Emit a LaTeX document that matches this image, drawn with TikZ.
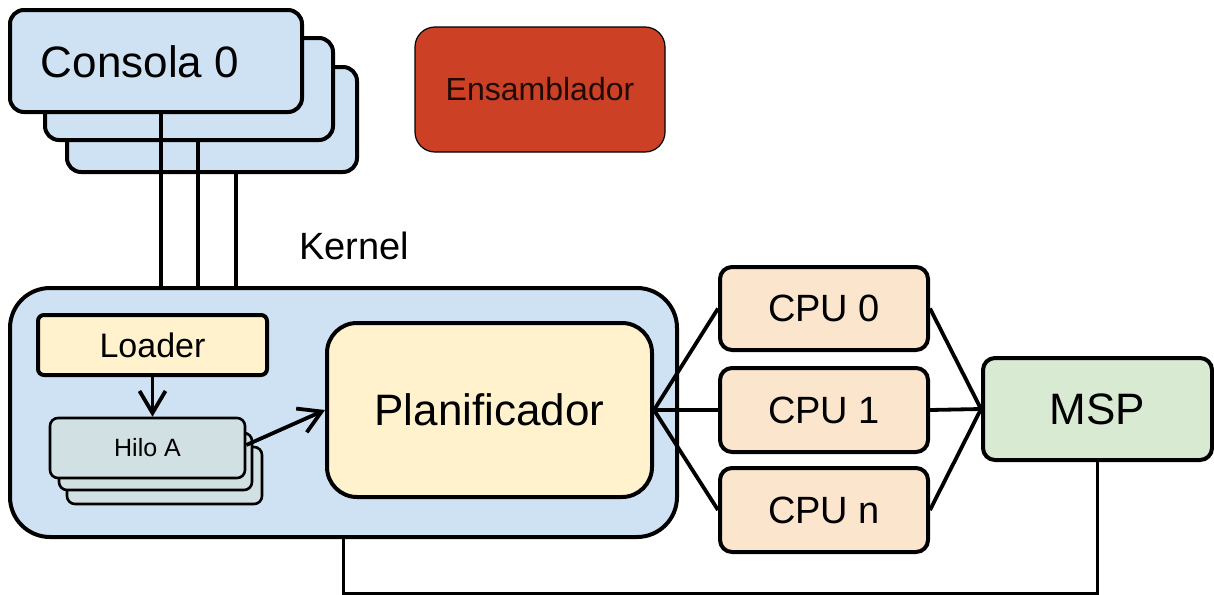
\documentclass[tikz,border=0pt]{standalone}
\usepackage{fontspec}
\setmainfont{Liberation Sans}
\usetikzlibrary{arrows.meta}
\definecolor{consblue}{HTML}{CFE2F3}
\definecolor{loadyel}{HTML}{FFF2CC}
\definecolor{cpuorange}{HTML}{FCE5CD}
\definecolor{mspgreen}{HTML}{D9EAD3}
\definecolor{hilogray}{HTML}{D0E0E3}
\definecolor{ensred}{HTML}{CC4125}
\begin{document}
\begin{tikzpicture}[x=0.5pt,y=-0.5pt,
  box/.style={draw,line width=2pt,rounded corners=6pt,inner sep=0pt},
  wire/.style={line width=1.9pt},
  arr/.style={-{Straight Barb[length=11pt,width=13pt]},line width=1.9pt}]
\useasboundingbox (0,0) rectangle (1214,594);
\node[box,fill=consblue,rounded corners=7pt,minimum width=145pt,minimum height=52.5pt] (con2) at (212,119.5) {};
\node[box,fill=consblue,rounded corners=7pt,minimum width=144pt,minimum height=51pt] (con1) at (189,89) {};
\node[box,fill=consblue,rounded corners=7pt,minimum width=146pt,minimum height=51pt] (con0) at (156,61) {};
\node[font=\fontsize{22}{26}\selectfont] (conlbl) at (140,62) {Consola 0};
\node[box,fill=ensred,line width=0.6pt,rounded corners=10pt,minimum width=125pt,minimum height=62.5pt,font=\fontsize{16}{19}\selectfont,text=black!85!ensred] (ens) at (540,89.5) {Ensamblador};
\node[font=\fontsize{19}{23}\selectfont] (klbl) at (354,246) {Kernel};
\node[box,fill=consblue,rounded corners=20pt,minimum width=333.5pt,minimum height=124.5pt] (kernel) at (343.5,412.5) {};
\draw[wire] ([xshift=2.5pt]con0.south) -- ([xshift=2.5pt]con0.south |- kernel.north);
\draw[wire] ([xshift=4.5pt]con1.south) -- ([xshift=4.5pt]con1.south |- kernel.north);
\draw[wire] ([xshift=12pt]con2.south) -- ([xshift=12pt]con2.south |- kernel.north);
\node[box,fill=loadyel,rounded corners=3pt,minimum width=114.5pt,minimum height=30pt,font=\fontsize{17}{20}\selectfont] (loader) at (152.5,345) {Loader};
\node[box,fill=hilogray,line width=1.3pt,rounded corners=4pt,minimum width=97.5pt,minimum height=28.5pt] (hilo2) at (164.5,475.5) {};
\node[box,fill=hilogray,line width=1.3pt,rounded corners=4pt,minimum width=96.5pt,minimum height=28.5pt] (hilo1) at (155.5,461.5) {};
\node[box,fill=hilogray,line width=1.3pt,rounded corners=4pt,minimum width=97.5pt,minimum height=30pt,font=\fontsize{12.5}{15}\selectfont] (hilo0) at (147.5,448) {Hilo A};
\node[box,fill=loadyel,rounded corners=15pt,minimum width=162.5pt,minimum height=87pt,font=\fontsize{22}{26}\selectfont] (planif) at (489.5,410) {Planificador};
\draw[arr] (loader.south) -- (hilo0.north -| loader.south);
\draw[arr] ([yshift=1.5pt]hilo0.east) -- (planif.west);
\node[box,fill=cpuorange,minimum width=104pt,minimum height=41.5pt,font=\fontsize{19}{23}\selectfont] (cpu0) at (824,308.5) {CPU 0};
\node[box,fill=cpuorange,minimum width=104pt,minimum height=42pt,font=\fontsize{19}{23}\selectfont] (cpu1) at (824,410) {CPU 1};
\node[box,fill=cpuorange,minimum width=104pt,minimum height=42pt,font=\fontsize{19}{23}\selectfont] (cpun) at (824,510) {CPU n};
\node[box,fill=mspgreen,minimum width=114.5pt,minimum height=51pt,font=\fontsize{22}{26}\selectfont] (msp) at (1097.5,409) {MSP};
\draw[wire] (planif.east) -- (cpu0.west);
\draw[wire] (planif.east) -- (cpu1.west);
\draw[wire] (planif.east) -- (cpun.west);
\draw[wire] (cpu0.east) -- (msp.west);
\draw[wire] (cpu1.east) -- (msp.west);
\draw[wire] (cpun.east) -- (msp.west);
\draw[wire] (kernel.south) -- ++(0,55) -| (msp.south);
\end{tikzpicture}
\end{document}
